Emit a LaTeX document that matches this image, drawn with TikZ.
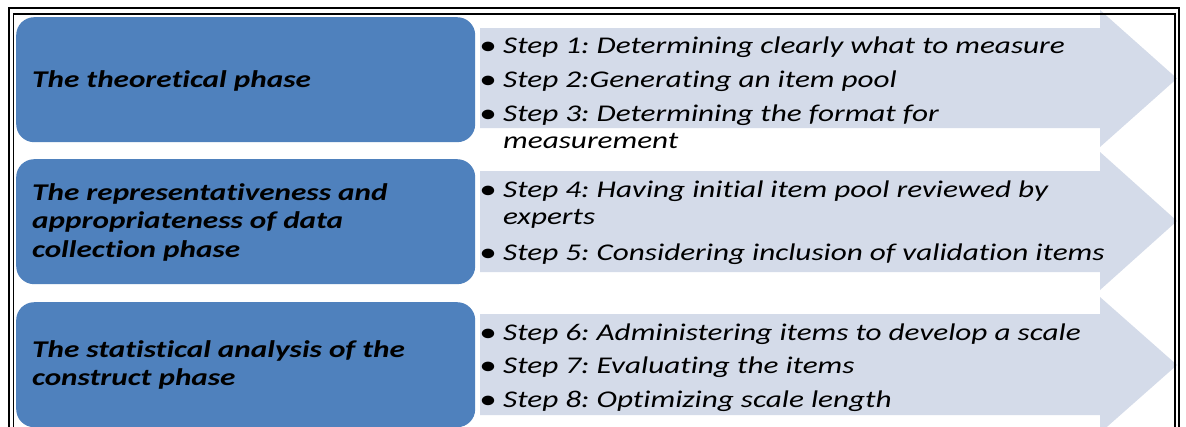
\documentclass[tikz,border=0pt]{standalone}
\usepackage{fontspec}
\setmainfont{Carlito}[FakeStretch=1.3,Ligatures=NoCommon]
\frenchspacing
\definecolor{phaseblue}{RGB}{79,129,189}
\definecolor{arrowfill}{RGB}{212,219,233}
\begin{document}
\begin{tikzpicture}[x=1pt,y=-1pt,
  phase/.style={fill=phaseblue, rounded corners=18pt, minimum width=459pt, minimum height=125pt, anchor=north west, inner sep=0pt},
  ptext/.style={anchor=base west, inner sep=0pt, font=\fontsize{24}{28}\selectfont\bfseries\itshape},
  stext/.style={anchor=base west, inner sep=0pt, font=\fontsize{24}{28}\selectfont\itshape},
  bul/.style={anchor=base, inner sep=0pt, font=\fontsize{27}{28}\selectfont},
  arrowbody/.style={fill=arrowfill},
  framerule/.style={line width=1.4pt}]
\clip (0,0) rectangle (1186,426);
\fill[white] (0,0) rectangle (1186,426);
% phase boxes
\node[phase] (p1) at (16,17) {};
\node[phase] (p2) at (16,159) {};
\node[phase] (p3) at (16,302) {};
% arrows
\fill[arrowbody] (480,28) -- (1100,28) -- (1100,10) -- (1177,78.5) -- (1100,147) -- (1100,128) -- (480,128) -- cycle;
\fill[arrowbody] (480,171) -- (1100,171) -- (1100,152) -- (1177,221) -- (1100,290) -- (1100,272) -- (480,272) -- cycle;
\fill[arrowbody] (480,314) -- (1100,314) -- (1100,297) -- (1177,365) -- (1100,433) -- (1100,415) -- (480,415) -- cycle;
% phase texts
\node[ptext] (t1) at (32,87) {The theoretical phase};
\node[ptext] (t2a) at (32,200) {The representativeness and};
\node[ptext] (t2b) at (32,228) {appropriateness of data};
\node[ptext] (t2c) at (32,257) {collection phase};
\node[ptext] (t3a) at (32,357) {The statistical analysis of the};
\node[ptext] (t3b) at (32,385) {construct phase};
% steps
\node[bul] (b1) at (488,54) {•};
\node[stext] (s1) at (503,53) {Step 1: Determining clearly what to measure};
\node[bul] (b2) at (488,88) {•};
\node[stext] (s2) at (503,87) {Step 2:Generating an item pool};
\node[bul] (b3) at (488,122) {•};
\node[stext] (s3) at (503,121) {Step 3: Determining the format for};
\node[stext] (s3b) at (503,148) {measurement};
\node[bul] (b4) at (488,198) {•};
\node[stext] (s4) at (503,197) {Step 4: Having initial item pool reviewed by};
\node[stext] (s4b) at (503,224) {experts};
\node[bul] (b5) at (488,261) {•};
\node[stext] (s5) at (503,260) {Step 5: Considering inclusion of validation items};
\node[bul] (b6) at (488,341) {•};
\node[stext] (s6) at (503,340) {Step 6: Administering items to develop a scale};
\node[bul] (b7) at (488,374) {•};
\node[stext] (s7) at (503,373) {Step 7: Evaluating the items};
\node[bul] (b8) at (488,408) {•};
\node[stext] (s8) at (503,407) {Step 8: Optimizing scale length};
% frame
\draw[framerule] (9,430) -- (9,8) -- (1179,8) -- (1179,430);
\draw[framerule] (13.5,430) -- (13.5,14) -- (1175,14) -- (1175,430);
\end{tikzpicture}
\end{document}
